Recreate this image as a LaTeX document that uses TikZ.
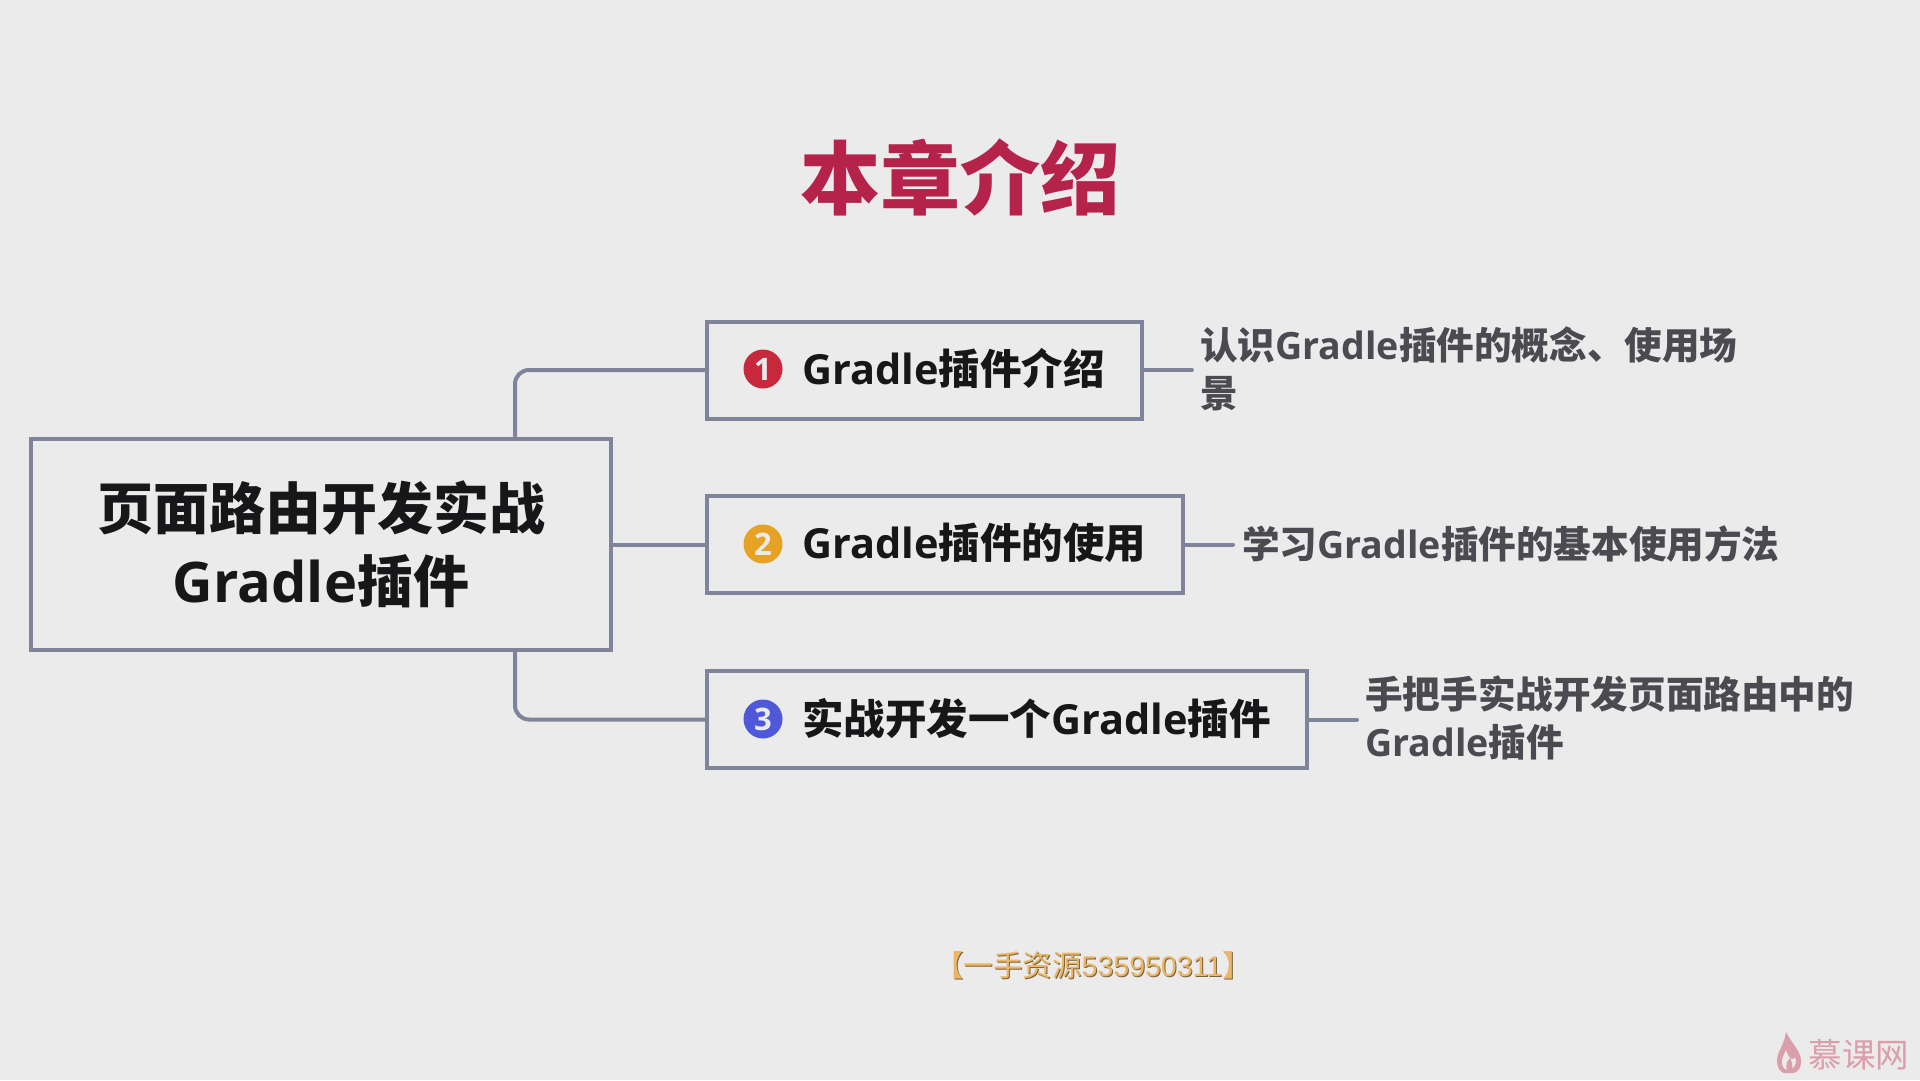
\documentclass[tikz,border=0pt]{standalone}
\usepackage{fontspec}
\setmainfont{Open Sans}
\newfontfamily\cjk{Noto Sans CJK SC}
\newfontfamily\lat{Liberation Sans}
\newcommand{\hz}[1]{{\cjk #1}}
\definecolor{bgc}{HTML}{EBEBEB}
\definecolor{linec}{HTML}{80849A}
\definecolor{ink}{HTML}{17171A}
\definecolor{desc}{HTML}{4A4A50}
\definecolor{titlec}{HTML}{B5234B}
\definecolor{gold}{HTML}{EBB668}
\definecolor{goldsh}{HTML}{7A6238}
\definecolor{logoc}{HTML}{DB9FAB}
\definecolor{bred}{HTML}{C8283C}
\definecolor{borange}{HTML}{E5A225}
\definecolor{bblue}{HTML}{4F58D8}
\tikzset{
  box/.style={draw=linec,line width=4pt,anchor=north west,inner sep=0pt,outer sep=0pt},
  conn/.style={draw=linec,line width=4pt},
  stub/.style={conn,line cap=round},
  badge/.style={circle,inner sep=0pt,minimum size=39pt,text=bgc,font=\bfseries\fontsize{31}{31}\selectfont},
  lab/.style={anchor=west,inner sep=0pt,text=ink,font=\bfseries\fontsize{41.5}{41.5}\selectfont},
  dsc/.style={anchor=west,inner sep=0pt,text=desc,align=left,font=\bfseries\fontsize{37.6}{48}\selectfont},
}
\begin{document}
\begin{tikzpicture}[x=1pt,y=-1pt]
\useasboundingbox (0,0) rectangle (1920,1080);
\fill[bgc] (0,0) rectangle (1920,1080);
% title
\node[inner sep=0pt,text=titlec,font=\bfseries\fontsize{80}{80}\selectfont] (title) at (960,177) {\hz{本章介绍}};
% main box
\node[box,minimum width=580pt,minimum height=211pt,align=center,text=ink,font=\bfseries\fontsize{56}{73}\selectfont] (main) at (31,439) {\raisebox{2.5pt}{\hz{页面路由开发实战}}\\\raisebox{2.5pt}{Gradle\hz{插件}}};
% boxes
\node[box,minimum width=435pt,minimum height=97pt] (b1) at (707,321.5) {};
\node[box,minimum width=476pt,minimum height=97pt] (b2) at (707,496) {};
\node[box,minimum width=600pt,minimum height=97pt] (b3) at (707,671) {};
% badges
\node[badge,fill=bred] (c1) at (763,369) {1};
\node[badge,fill=borange] (c2) at (763,544) {2};
\node[badge,fill=bblue] (c3) at (763,719) {3};
% labels
\node[lab] (l1) at (802,368) {Gradle\hz{插件介绍}};
\node[lab] (l2) at (802,543) {Gradle\hz{插件的使用}};
\node[lab] (l3) at (802,718) {\hz{实战开发一个}Gradle\hz{插件}};
% descriptions
\node[dsc] (d1) at (1200,369) {\hz{认识}Gradle\hz{插件的概念、使用场}\\\hz{景}};
\node[dsc] (d2) at (1242,544) {\hz{学习}Gradle\hz{插件的基本使用方法}};
\node[dsc] (d3) at (1365,718) {\hz{手把手实战开发页面路由中的}\\Gradle\hz{插件}};
% connector junctions
\coordinate (j1) at (515,439);
\coordinate (j3) at (515,650);
\coordinate (e1) at (1192,369);
\coordinate (e2) at (1233,544);
\coordinate (e3) at (1357,719);
\draw[conn,rounded corners=14pt] (j1) |- (b1.west);
\draw[conn,rounded corners=14pt] (j3) |- (b3.west);
\draw[conn] (main.east |- b2.west) -- (b2.west);
\draw[stub] (b1.east) -- (b1.east -| e1);
\draw[stub] (b2.east) -- (b2.east -| e2);
\draw[stub] (b3.east) -- (b3.east -| e3);
% watermark
\node[inner sep=0pt,text=goldsh,font=\fontsize{29.5}{29.5}\selectfont] (wms) at (1094,966) {\hz{【一手资源}{\lat\fontsize{28.5}{29.5}\selectfont 535950311}\hz{】}};
\node[inner sep=0pt,text=gold,font=\fontsize{29.5}{29.5}\selectfont] (wm) at (1093,965) {\hz{【一手资源}{\lat\fontsize{28.5}{29.5}\selectfont 535950311}\hz{】}};
% logo
\fill[logoc,even odd rule] (1786,1032) .. controls (1792,1044) and (1802,1052) .. (1801,1063) .. controls (1800,1073) and (1793,1074) .. (1788,1073) .. controls (1781,1075) and (1777,1068) .. (1777,1060) .. controls (1777,1052) and (1784,1046) .. (1786,1032) -- cycle
 (1786,1050) .. controls (1783,1056) and (1781,1060) .. (1782,1064) .. controls (1783,1068) and (1785,1070) .. (1787,1070) .. controls (1785,1064) and (1788,1060) .. (1790,1058) .. controls (1792,1062) and (1793,1066) .. (1792,1069) .. controls (1796,1066) and (1797,1061) .. (1795,1057) .. controls (1792,1062) and (1789,1058) .. (1786,1050) -- cycle;
\node[inner sep=0pt,text=logoc,font=\fontsize{33.5}{33.5}\selectfont] (logo) at (1859,1055) {\hz{慕课网}};
\end{tikzpicture}
\end{document}
